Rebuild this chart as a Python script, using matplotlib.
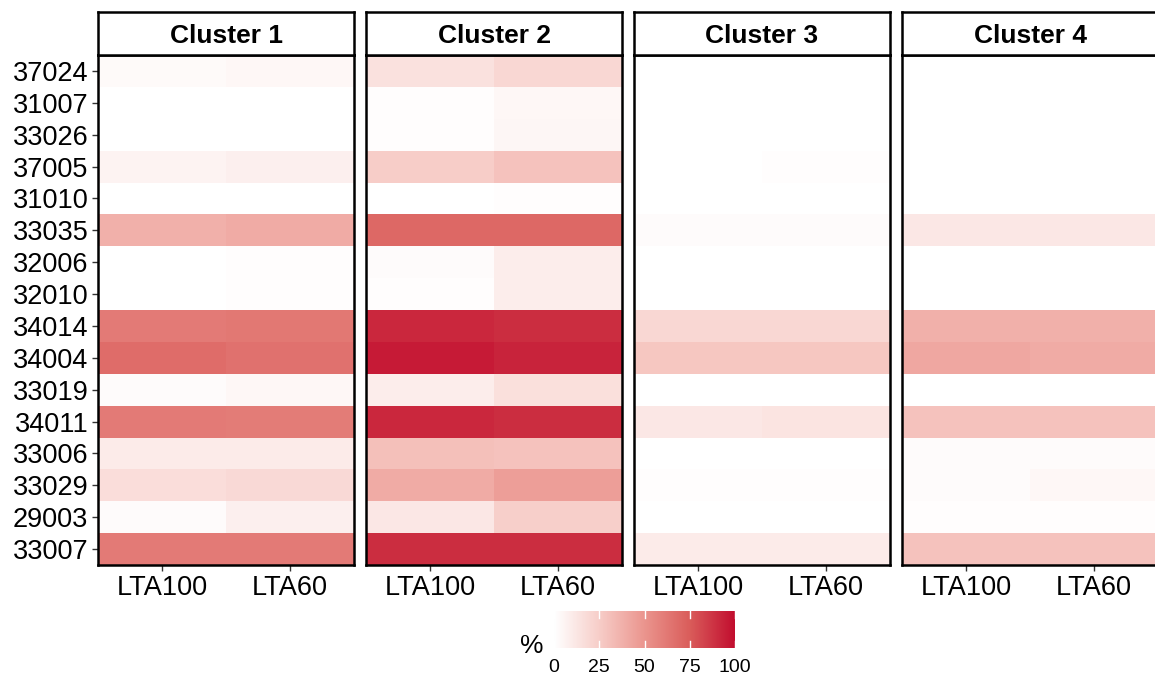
import matplotlib
matplotlib.use("Agg")
import matplotlib.pyplot as plt
import numpy as np
from matplotlib.colors import LinearSegmentedColormap

plt.rcParams['font.family'] = ['Liberation Sans', 'DejaVu Sans']

sites = ['37024', '31007', '33026', '37005', '31010', '33035', '32006', '32010',
         '34014', '34004', '33019', '34011', '33006', '33029', '29003', '33007']
scenarios = ['LTA100', 'LTA60']
clusters = ['Cluster 1', 'Cluster 2', 'Cluster 3', 'Cluster 4']

# percentage per site, columns = LTA100, LTA60
cluster1 = [[3, 4], [0, 0], [0, 0], [6, 8], [0, 0], [38, 40], [0, 1], [0, 1],
            [62, 63], [68, 66], [2, 4], [62, 61], [10, 10], [17, 19], [2, 8], [62, 62]]
cluster2 = [[15, 20], [1, 4], [1, 5], [25, 30], [0, 1], [70, 70], [2, 9], [1, 9],
            [92, 90], [96, 93], [9, 16], [92, 90], [31, 30], [40, 46], [12, 24], [90, 90]]
cluster3 = [[0, 0], [0, 0], [0, 0], [0, 1], [0, 0], [2, 2], [0, 0], [0, 0],
            [20, 20], [28, 28], [0, 0], [12, 14], [0, 0], [1, 1], [0, 0], [10, 10]]
cluster4 = [[0, 0], [0, 0], [0, 0], [0, 0], [0, 0], [12, 12], [0, 0], [0, 0],
            [38, 38], [42, 40], [0, 0], [30, 30], [2, 2], [2, 4], [1, 1], [30, 30]]
values = [cluster1, cluster2, cluster3, cluster4]

cmap = LinearSegmentedColormap.from_list('wr', [
    (0.0, '#FFFFFF'), (0.25, '#F7CDC8'), (0.5, '#EB958E'),
    (0.75, '#DA5D5B'), (1.0, '#C20E2F')])

W, H = 1155, 676
fig = plt.figure(figsize=(W / 100, H / 100), dpi=100)

def px(x0, y0, x1, y1):
    return [x0 / W, 1 - y1 / H, (x1 - x0) / W, (y1 - y0) / H]

lefts = [98, 366, 634, 902]
pw = 256
for i, name in enumerate(clusters):
    x0 = lefts[i]
    ax = fig.add_axes(px(x0, 55, x0 + pw, 565))
    data = np.array(values[i], dtype=float)
    ax.pcolormesh(np.arange(3) - 0.5, np.arange(len(sites) + 1) - 0.5, data,
                  cmap=cmap, vmin=0, vmax=100)
    ax.set_xlim(-0.5, 1.5)
    ax.set_ylim(len(sites) - 0.5, -0.5)
    ax.set_xticks(range(2))
    ax.set_xticklabels(scenarios, fontsize=19.5)
    ax.set_yticks(range(len(sites)))
    if i == 0:
        ax.set_yticklabels(sites, fontsize=19.5)
    else:
        ax.set_yticklabels([])
    ax.tick_params(axis='both', width=1, length=4, color='#333333', pad=3)
    if i > 0:
        ax.tick_params(axis='y', length=0)
    for s in ax.spines.values():
        s.set_linewidth(1.8)
        s.set_color('black')

    # facet strip
    sx = fig.add_axes(px(x0, 12, x0 + pw, 55))
    sx.set_xticks([])
    sx.set_yticks([])
    for s in sx.spines.values():
        s.set_linewidth(1.8)
    sx.text(0.5, 0.45, name, ha='center', va='center', fontsize=19,
            fontweight='bold', transform=sx.transAxes)

# colour bar
cax = fig.add_axes(px(554, 611, 735, 648))
grad = np.linspace(0, 100, 300).reshape(1, -1)
cax.imshow(grad, aspect='auto', cmap=cmap, vmin=0, vmax=100,
           extent=[0, 100, 0, 1])
for t in [0, 25, 50, 75, 100]:
    cax.plot([t, t], [0, 0.2], color='white', lw=1)
    cax.plot([t, t], [0.8, 1], color='white', lw=1)
cax.set_xlim(0, 100)
cax.set_ylim(0, 1)
cax.set_yticks([])
cax.set_xticks([0, 25, 50, 75, 100])
cax.tick_params(axis='x', length=0, labelsize=14, pad=8)
for s in cax.spines.values():
    s.set_visible(False)
fig.text(532 / W, 1 - 646 / H, '%', fontsize=19, ha='center', va='center')

fig.savefig('out.png', dpi=100)
